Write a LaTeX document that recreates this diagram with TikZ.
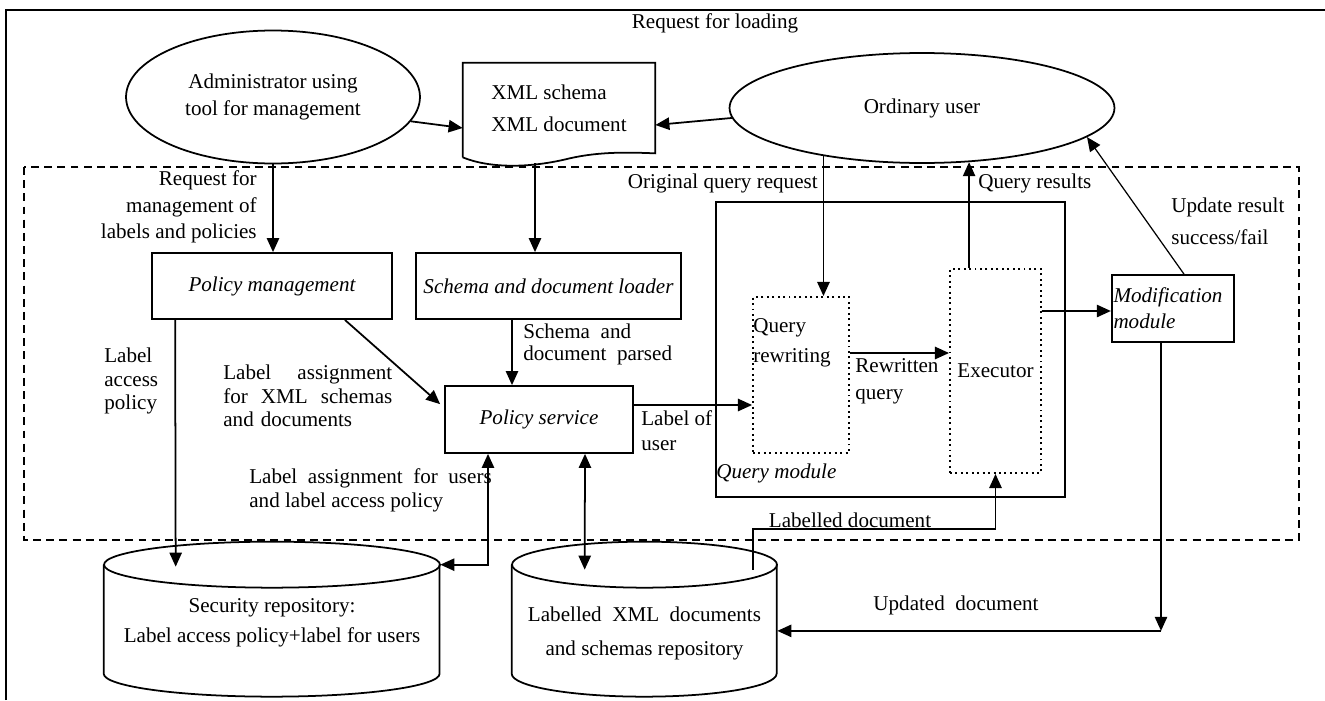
\documentclass[tikz,border=0pt]{standalone}
\usepackage{fontspec}
\setmainfont{Liberation Serif}
\usepackage{tikz}
\usetikzlibrary{calc,shapes.geometric,arrows.meta}
\tikzstyle{actor} = [ellipse, draw, line width=1pt, align=center, inner sep=0pt]
\tikzstyle{module} = [rectangle, draw, line width=1pt, text centered, font=\fontsize{12}{15}\selectfont\itshape]
\tikzstyle{container} = [rectangle, draw, line width=1pt]
\tikzstyle{submodule} = [rectangle, draw, dotted, line width=1.1pt]
\tikzstyle{store} = [rectangle, align=center, inner sep=0pt]
\tikzstyle{caption} = [inner sep=0pt]
\tikzstyle{connector} = [line width=1pt,->]

\begin{document}
\begin{tikzpicture}[x=0.02cm, y=-0.02cm, >={Triangle[length=8pt,width=7pt]}, font=\fontsize{12}{15}\selectfont]
            \useasboundingbox (0,0) rectangle (1325,700);
            \draw [line width=1pt] (6,700) -- (6,10) -- (1325,10);
            \draw [line width=1pt, dash pattern=on 4.5pt off 3pt] (24,167) rectangle (1299,540);
            \node (admin) [actor, minimum width=5.88cm, minimum height=2.66cm] at (273,97) {Administrator using\\tool for management};
            \node (ordinary) [actor, minimum width=7.7cm, minimum height=2.2cm] at (922,108) {Ordinary user};
            \node (xmldoc) [store, align=left, minimum width=3.84cm, minimum height=1.8cm, font=\fontsize{12}{18}\selectfont] at (559,108) {XML schema\\XML document};
            \draw [line width=1pt] ($(xmldoc.south west)+(0,4)$) -- (xmldoc.north west) -- (xmldoc.north east) -- (xmldoc.south east) .. controls ($(xmldoc.south east)+(-25,-1)$) and ($(xmldoc.south east)+(-55,-2)$) .. ($(xmldoc.south west)+(107,5)$) .. controls ($(xmldoc.south west)+(67,15)$) and ($(xmldoc.south west)+(27,15)$) .. ($(xmldoc.south west)+(0,4)$);
            \node (polman) [module, minimum width=4.8cm, minimum height=1.32cm] at (272,286) {Policy management};
            \node (loader) [module, minimum width=5.3cm, minimum height=1.32cm] at (548.5,286) {Schema and document loader};
            \node (polserv) [module, minimum width=3.76cm, minimum height=1.34cm] at (539,419.5) {Policy service};
            \node (qmodule) [container, minimum width=6.98cm, minimum height=5.9cm] at (890.5,349.5) {};
            \node (qrewrite) [submodule, minimum width=1.92cm, minimum height=3.12cm] at (801,375) {};
            \node (executor) [submodule, minimum width=1.82cm, minimum height=4.08cm] at (995.5,371) {Executor};
            \node (modif) [module, align=left, text width=2.38cm, inner sep=1pt, minimum height=1.34cm] at (1173,308.5) {Modification\\module};
            \node (secrepo) [store, minimum width=6.72cm, minimum height=3.24cm, font=\fontsize{12}{17}\selectfont] at (272,623) {Security repository:\\Label access policy+label for users};
            \draw [line width=1pt] ($(secrepo.north west)+(0,23)$) -- ++(0,109) arc[start angle=180, end angle=360, x radius=3.36cm, y radius=0.46cm] -- ++(0,-109);
            \draw [line width=1pt] ($(secrepo.north)+(0,23)$) ellipse [x radius=3.36cm, y radius=0.46cm];
            \node (labrepo) [store, minimum width=5.3cm, minimum height=3.66cm, font=\fontsize{12}{19}\selectfont] at (644.5,633.5) {Labelled\enspace XML\enspace documents\\and schemas repository};
            \draw [line width=1pt] ($(labrepo.north west)+(0,23)$) -- ++(0,109) arc[start angle=180, end angle=360, x radius=2.65cm, y radius=0.46cm] -- ++(0,-109);
            \draw [line width=1pt] ($(labrepo.north)+(0,23)$) ellipse [x radius=2.65cm, y radius=0.46cm];
            \node (loadreq) [caption] at (715,23) {Request for loading};
            \node (mgmtreq) [caption, align=right, anchor=east] at (257,207) {Request for\\management of\\labels and policies};
            \node (accpol) [caption, align=left, anchor=west, font=\fontsize{12}{13.6}\selectfont] at (104,381) {Label\\access\\policy};
            \node (xmllab) [caption, align=left, anchor=west, text width=3.38cm, font=\fontsize{12}{13.3}\selectfont] at (223,396) {Label\hfill assignment\\for\hfill XML\hfill schemas\\and documents};
            \node (parsed) [caption, align=left, anchor=west, font=\fontsize{12}{13}\selectfont] at (523,344.5) {Schema\enspace and\\document\enspace parsed};
            \node (userlab) [caption, align=left, anchor=west, font=\fontsize{12}{14}\selectfont] at (641,430.5) {Label of\\user};
            \node (userpol) [caption, align=left, anchor=west, font=\fontsize{12}{13.6}\selectfont] at (249,490) {Label\enspace assignment\enspace for\enspace users\\and label access policy};
            \node (origreq) [caption, anchor=east] at (818,183) {Original query request};
            \node (results) [caption, anchor=west] at (978,183) {Query results};
            \node (updres) [caption, align=left, anchor=west, font=\fontsize{12}{18}\selectfont] at (1171,221) {Update result\\success/fail};
            \node (rewlab) [caption, align=left, anchor=west, font=\fontsize{12}{15.3}\selectfont] at (855,381.5) {Rewritten\\query};
            \node (qmodlab) [caption, anchor=west, font=\fontsize{12}{15}\selectfont\itshape] at (716,473) {Query module};
            \node (qrewtext) [caption, align=left, anchor=west, font=\fontsize{12}{17}\selectfont] at (753,343) {Query\\rewriting};
            \node (labdoc) [caption] at (850,520) {Labelled document};
            \node (upddoc) [caption] at (956,605) {Updated\enspace document};
            \coordinate (updcorner) at ($(modif.south)+(-12,288)$);
            \draw [connector] (admin.-10) -- ($(xmldoc.west)+(0,20)$);
            \draw [connector] (ordinary.183) -- ($(xmldoc.east)+(0,17)$);
            \draw [connector] (admin.south) -- (admin.south |- polman.north);
            \draw [connector] ($(xmldoc.south)+(-24,10)$) -- ($(loader.north)+(-13.5,0)$);
            \draw [connector] ($(polman.south west)+(24,0)$) -- ($(secrepo.north west)+(72,25)$);
            \draw [connector] ($(polman.south east)+(-48,0)$) -- ($(polserv.north west)+(-4,19)$);
            \draw [connector] ($(loader.south)+(-36.5,0)$) -- ($(polserv.north)+(-27,0)$);
            \draw [connector] ($(polserv.east)+(0,-14.5)$) -- ($(qrewrite.west)+(0,30)$);
            \draw [connector] (ordinary.206) -- (ordinary.206 |- qrewrite.north);
            \draw [connector] (ordinary.311 |- executor.north) -- (ordinary.311);
            \draw [connector] ($(qrewrite.east)+(0,-22)$) -- ($(executor.west)+(0,-18)$);
            \draw [connector] ($(executor.east)+(0,-60)$) -- ($(modif.west)+(0,2.5)$);
            \draw [connector, line width=0.7pt] ($(modif.north)+(11,0)$) -- (ordinary.-10);
            \draw [connector] ($(modif.south)+(-12,0)$) -- (updcorner);
            \draw [connector] (updcorner) -- (updcorner -| labrepo.east);
            \draw [connector,<->] ($(secrepo.north east)+(0,23)$) -| ($(polserv.south)+(-51,0)$);
            \draw [connector,<->] ($(polserv.south)+(46,0)$) -- ($(labrepo.north west)+(73,28)$);
            \draw [connector] ($(labrepo.north west)+(241,28)$) -- ++(0,-41) -| (executor.south);
        \end{tikzpicture}
\end{document}
